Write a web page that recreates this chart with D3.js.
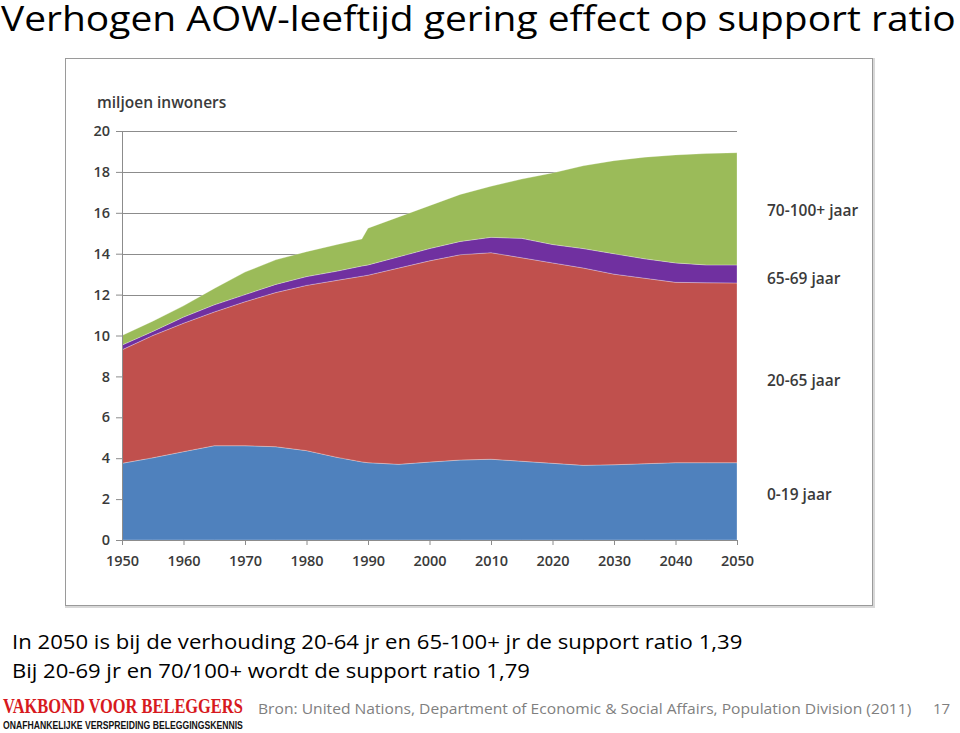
<!DOCTYPE html>
<html>
<head>
<meta charset="utf-8">
<script src="https://cdn.jsdelivr.net/npm/d3@7"></script>
<style>
  body { margin: 0; background: #fff; }
  svg { display: block; font-family: "Open Sans", "Noto Sans", sans-serif; }
</style>
</head>
<body>
<svg id="chart" width="960" height="733"></svg>
<script>
// years (extra point at 1989 for the kink in the green band)
const years = [1950, 1955, 1960, 1965, 1970, 1975, 1980, 1985, 1989, 1990, 1995,
  2000, 2005, 2010, 2015, 2020, 2025, 2030, 2035, 2040, 2045, 2050];

// millions of inhabitants per age group
const age0to19 = [3.75, 4.02, 4.32, 4.61, 4.61, 4.56, 4.37, 4.04, 3.82, 3.78, 3.70,
  3.81, 3.91, 3.95, 3.85, 3.75, 3.65, 3.68, 3.73, 3.78, 3.78, 3.78];
const age20to65 = [5.55, 5.98, 6.28, 6.54, 7.04, 7.54, 8.08, 8.66, 9.08, 9.17, 9.60,
  9.84, 10.04, 10.10, 9.95, 9.80, 9.65, 9.32, 9.07, 8.82, 8.80, 8.79];
const age65to69 = [0.23, 0.20, 0.30, 0.35, 0.35, 0.40, 0.43, 0.45, 0.50, 0.50, 0.55,
  0.60, 0.65, 0.75, 0.95, 0.90, 0.95, 1.00, 0.95, 0.95, 0.87, 0.88];
const age70plus = [0.47, 0.50, 0.55, 0.80, 1.10, 1.20, 1.22, 1.30, 1.32, 1.80, 1.95,
  2.10, 2.30, 2.50, 2.90, 3.50, 4.05, 4.55, 4.97, 5.28, 5.45, 5.49];

const seriesKeys = ["0-19 jaar", "20-65 jaar", "65-69 jaar", "70-100+ jaar"];
const seriesColors = ["#4f81bd", "#c0504d", "#7030a0", "#9bbb59"];
const yTicks = [0, 2, 4, 6, 8, 10, 12, 14, 16, 18, 20];
const xTicks = [1950, 1960, 1970, 1980, 1990, 2000, 2010, 2020, 2030, 2040, 2050];

const rows = years.map((yr, i) => ({
  year: yr,
  "0-19 jaar": age0to19[i],
  "20-65 jaar": age20to65[i],
  "65-69 jaar": age65to69[i],
  "70-100+ jaar": age70plus[i],
}));

const svg = d3.select("#chart");

// stretch/squeeze a text horizontally so it spans `width` px starting at x0
function fitWidth(sel, x0, width) {
  const w = sel.node().getComputedTextLength();
  const s = width / w;
  sel.attr("x", 0).attr("transform", `translate(${x0},0) scale(${s},1)`);
  return sel;
}

// slide title
const title = svg.append("text")
  .attr("y", 31)
  .attr("font-size", 34)
  .attr("fill", "#000")
  .text("Verhogen AOW-leeftijd gering effect op support ratio");
fitWidth(title, 1, 955);

// chart frame
svg.append("rect")
  .attr("x", 66.5).attr("y", 59.5)
  .attr("width", 807).attr("height", 547)
  .attr("fill", "none").attr("stroke", "#d8d8d8").attr("stroke-width", 3);
svg.append("rect")
  .attr("x", 65.5).attr("y", 58.5)
  .attr("width", 807).attr("height", 547)
  .attr("fill", "#fff").attr("stroke", "#9a9a9a").attr("stroke-width", 1);

const x = d3.scaleLinear().domain([1950, 2050]).range([122, 737]);
const y = d3.scaleLinear().domain([0, 20]).range([540, 131]);

// gridlines
svg.append("g")
  .selectAll("line")
  .data(yTicks.filter(t => t > 0))
  .join("line")
  .attr("x1", x(1950)).attr("x2", x(2050))
  .attr("y1", d => Math.round(y(d)) + 0.5).attr("y2", d => Math.round(y(d)) + 0.5)
  .attr("stroke", "#8c8c8c").attr("stroke-width", 1);

// stacked areas
const stack = d3.stack().keys(seriesKeys);
const layers = stack(rows);

const area = d3.area()
  .x(d => x(d.data.year))
  .y0(d => y(d[0]))
  .y1(d => y(d[1]));

svg.append("g")
  .selectAll("path")
  .data(layers)
  .join("path")
  .attr("d", area)
  .attr("fill", (d, i) => seriesColors[i])
  .attr("stroke", "#ffffff").attr("stroke-opacity", 0.35).attr("stroke-width", 0.8);

// axes
const yAxis = d3.axisLeft(y).tickValues(yTicks).tickSize(6).tickPadding(6);
const gy = svg.append("g").attr("transform", `translate(${x(1950)},0)`).call(yAxis);
gy.select(".domain").attr("stroke", "#8c8c8c");
gy.selectAll(".tick line").attr("stroke", "#8c8c8c");
gy.selectAll(".tick text")
  .attr("font-size", 14.5).attr("font-weight", 600).attr("fill", "#3a3a3a")
  .attr("font-family", "Open Sans, sans-serif");

const xAxis = d3.axisBottom(x).tickValues(xTicks).tickFormat(d3.format("d")).tickSize(5).tickPadding(11);
const gx = svg.append("g").attr("transform", `translate(0,${y(0)})`).call(xAxis);
gx.select(".domain").attr("stroke", "#8c8c8c");
gx.selectAll(".tick line").attr("stroke", "#8c8c8c");
gx.selectAll(".tick text")
  .attr("font-size", 14.5).attr("font-weight", 600).attr("fill", "#3a3a3a")
  .attr("font-family", "Open Sans, sans-serif");

// axis title
svg.append("text")
  .attr("x", 97).attr("y", 108)
  .attr("font-size", 15.5).attr("font-weight", 600).attr("fill", "#3a3a3a")
  .text("miljoen inwoners");

// series labels on the right
const labelY = { "70-100+ jaar": 216, "65-69 jaar": 284, "20-65 jaar": 386, "0-19 jaar": 500 };
svg.append("g")
  .selectAll("text")
  .data(seriesKeys)
  .join("text")
  .attr("x", 767)
  .attr("y", d => labelY[d])
  .attr("font-size", 15.5).attr("font-weight", 600).attr("fill", "#3a3a3a")
  .text(d => d);

// notes below the chart
fitWidth(svg.append("text")
  .attr("y", 649)
  .attr("font-size", 20)
  .text("In 2050 is bij de verhouding 20-64 jr en 65-100+ jr  de support ratio 1,39"), 12, 731);
fitWidth(svg.append("text")
  .attr("y", 678)
  .attr("font-size", 20)
  .text("Bij 20-69 jr en 70/100+ wordt de support ratio 1,79"), 12, 518);

// source line
fitWidth(svg.append("text")
  .attr("y", 714)
  .attr("font-size", 15).attr("fill", "#7f7f7f")
  .text("Bron: United Nations, Department of Economic  & Social Affairs, Population Division  (2011)"), 258, 654);
svg.append("text")
  .attr("x", 933).attr("y", 714)
  .attr("font-size", 15).attr("fill", "#7f7f7f")
  .text("17");

// logo text
fitWidth(svg.append("text")
  .attr("y", 713)
  .attr("font-family", "Liberation Serif, serif").attr("font-weight", "bold")
  .attr("font-size", 20).attr("fill", "#d71920")
  .text("VAKBOND VOOR BELEGGERS"), 3, 240);
fitWidth(svg.append("text")
  .attr("y", 729)
  .attr("font-family", "Liberation Sans, Arial, sans-serif").attr("font-weight", "bold")
  .attr("font-size", 10.5).attr("fill", "#111")
  .text("ONAFHANKELIJKE VERSPREIDING BELEGGINGSKENNIS"), 3, 240);
</script>
</body>
</html>
